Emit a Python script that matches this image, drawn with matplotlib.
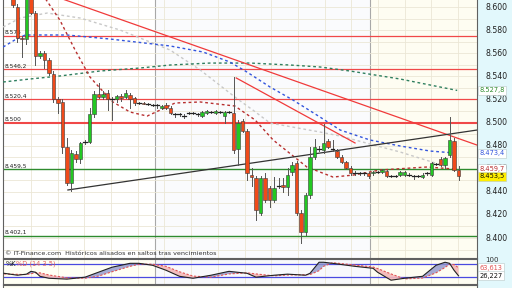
import numpy as np
import matplotlib
matplotlib.use("Agg")
import matplotlib.pyplot as plt
from matplotlib.patches import Rectangle
from matplotlib.transforms import blended_transform_factory

# ---- daily candles (index 0 = first visible session) ----
opens = [8.615, 8.600, 8.573, 8.572, 8.612, 8.595, 8.558, 8.560, 8.554, 8.542,
         8.520, 8.518, 8.479, 8.448, 8.473, 8.468, 8.483, 8.483, 8.507, 8.525,
         8.522, 8.526, 8.520, 8.520, 8.523, 8.522, 8.524, 8.521, 8.517, 8.517,
         8.516, 8.515, 8.515, 8.513, 8.515, 8.513, 8.507, 8.507, 8.506, 8.508,
         8.508, 8.507, 8.506, 8.508, 8.509, 8.508, 8.509, 8.506, 8.509, 8.508,
         8.477, 8.501, 8.493, 8.455, 8.452, 8.422, 8.452, 8.443, 8.433, 8.445,
         8.446, 8.444, 8.457, 8.465, 8.422, 8.405, 8.437, 8.470, 8.477, 8.476,
         8.484, 8.477, 8.475, 8.470, 8.466, 8.461, 8.456, 8.456, 8.456, 8.456,
         8.456, 8.457, 8.457, 8.458, 8.454, 8.454, 8.455, 8.455, 8.455, 8.454,
         8.454, 8.453, 8.456, 8.455, 8.464, 8.468, 8.463, 8.472, 8.484, 8.459]
highs = [8.620, 8.603, 8.575, 8.615, 8.620, 8.597, 8.562, 8.562, 8.556, 8.545,
         8.522, 8.520, 8.487, 8.476, 8.475, 8.483, 8.485, 8.513, 8.527, 8.534,
         8.527, 8.528, 8.522, 8.524, 8.525, 8.528, 8.526, 8.522, 8.518, 8.518,
         8.517, 8.516, 8.516, 8.515, 8.517, 8.514, 8.508, 8.508, 8.507, 8.509,
         8.509, 8.508, 8.510, 8.511, 8.510, 8.511, 8.510, 8.510, 8.510, 8.539,
         8.502, 8.503, 8.494, 8.461, 8.454, 8.454, 8.456, 8.445, 8.453, 8.452,
         8.452, 8.461, 8.466, 8.467, 8.424, 8.439, 8.479, 8.486, 8.480, 8.499,
         8.486, 8.485, 8.477, 8.472, 8.467, 8.462, 8.458, 8.457, 8.457, 8.457,
         8.458, 8.458, 8.460, 8.459, 8.455, 8.455, 8.458, 8.458, 8.456, 8.455,
         8.455, 8.456, 8.457, 8.466, 8.465, 8.470, 8.470, 8.505, 8.487, 8.462]
lows = [8.600, 8.570, 8.557, 8.568, 8.594, 8.550, 8.556, 8.547, 8.541, 8.518,
        8.508, 8.474, 8.446, 8.441, 8.466, 8.465, 8.481, 8.482, 8.505, 8.521,
        8.520, 8.511, 8.502, 8.518, 8.519, 8.521, 8.513, 8.515, 8.516, 8.516,
        8.515, 8.514, 8.513, 8.512, 8.512, 8.507, 8.505, 8.506, 8.504, 8.507,
        8.507, 8.506, 8.505, 8.507, 8.508, 8.507, 8.508, 8.500, 8.508, 8.474,
        8.463, 8.492, 8.450, 8.445, 8.416, 8.420, 8.431, 8.427, 8.431, 8.443,
        8.440, 8.437, 8.455, 8.420, 8.396, 8.403, 8.435, 8.468, 8.475, 8.474,
        8.478, 8.475, 8.469, 8.465, 8.460, 8.455, 8.455, 8.455, 8.455, 8.452,
        8.455, 8.456, 8.456, 8.453, 8.453, 8.453, 8.454, 8.454, 8.454, 8.451,
        8.453, 8.452, 8.455, 8.454, 8.463, 8.462, 8.461, 8.470, 8.458, 8.450]
closes = [8.602, 8.573, 8.572, 8.610, 8.595, 8.558, 8.560, 8.554, 8.543, 8.520,
          8.517, 8.479, 8.448, 8.474, 8.468, 8.482, 8.483, 8.507, 8.525, 8.522,
          8.525, 8.520, 8.520, 8.523, 8.521, 8.526, 8.520, 8.517, 8.517, 8.516,
          8.516, 8.515, 8.515, 8.514, 8.513, 8.508, 8.507, 8.507, 8.506, 8.508,
          8.508, 8.507, 8.509, 8.510, 8.509, 8.510, 8.509, 8.509, 8.509, 8.476,
          8.500, 8.493, 8.456, 8.453, 8.424, 8.452, 8.433, 8.433, 8.443, 8.445,
          8.444, 8.455, 8.463, 8.422, 8.405, 8.437, 8.470, 8.479, 8.477, 8.482,
          8.479, 8.477, 8.470, 8.466, 8.461, 8.456, 8.456, 8.456, 8.456, 8.454,
          8.457, 8.457, 8.459, 8.454, 8.454, 8.454, 8.457, 8.457, 8.455, 8.454,
          8.454, 8.455, 8.456, 8.465, 8.464, 8.463, 8.469, 8.485, 8.459, 8.4535]

# ---- moving averages (read at a few sessions) ----
ma_blue_x = [-2.2, 0.4, 2.7, 12, 21.6, 34.9, 42.2, 48.2, 52, 57.1, 62.2, 68.2, 72.7, 79.3, 86, 92.7, 98.9]
ma_blue_y = [8.5654, 8.5715, 8.5758, 8.5758, 8.5723, 8.5663, 8.5611, 8.5524, 8.5437, 8.5308,
             8.5195, 8.5048, 8.4935, 8.4849, 8.4797, 8.4753, 8.4734]
ma_green_x = [-2.2, 3.8, 10.4, 19.3, 28.2, 34.9, 43.8, 52.7, 61.6, 68.2, 74.9, 86, 98.7]
ma_green_y = [8.5351, 8.5377, 8.5403, 8.5446, 8.5472, 8.5498, 8.5515, 8.5515, 8.5498, 8.5481,
              8.5446, 8.5377, 8.5278]
ma_gray_x = [-2.2, 1.6, 7.6, 14.9, 23.8, 34.9, 41.6, 49.6, 53.3, 57.1, 68.2, 72.7, 86, 96]
ma_gray_y = [8.5827, 8.5905, 8.5948, 8.5905, 8.5801, 8.5628, 8.5455, 8.5212, 8.5108, 8.4996,
             8.4918, 8.4883, 8.4745, 8.4623]
ma_red_x = [7.1, 10.4, 13.8, 17.1, 19.3, 22.2, 26, 29.8, 32.7, 36, 41.6, 49.3, 53.8, 57.8,
            65.3, 71.1, 75.6, 81.6, 92, 98.2]
ma_red_y = [8.6078, 8.5888, 8.5628, 8.5394, 8.5299, 8.5178, 8.5091, 8.5056, 8.5108, 8.5169,
            8.5178, 8.5143, 8.5022, 8.4849, 8.4615, 8.4528, 8.4545, 8.4589, 8.4615, 8.4597]

# ---- trend lines: (x0, y0, x1, y1) ----
red_trend_1 = (10.4, 8.6078, 103.1, 8.4805)
red_trend_2 = (49.6, 8.5386, 76.0, 8.4823)
black_trend = (12.2, 8.4416, 103.1, 8.4935)

# ---- horizontal levels ----
red_levels = [8.575, 8.5462, 8.5204, 8.500]
red_labels = ["8.575", "8.546,2", "8.520,4", "8.500"]
green_levels = [8.4595, 8.4021]
green_labels = ["8.459,5", "8.402,1"]

price_ticks = [8.600, 8.580, 8.560, 8.540, 8.520, 8.500, 8.480, 8.460, 8.440, 8.420, 8.400]

# ---- stochastic %K %D (14 3 5) ----
stoch_x = [-2, 1, 3, 4, 5, 6, 8, 12, 16, 19, 22, 26, 28, 31, 34, 37, 40, 44, 48, 52, 54, 58,
           61, 65, 66, 68, 69, 71, 76, 80, 81, 84, 87, 91, 94, 96, 97, 98, 99]
stoch_k = [38, 29, 34, 47, 43, 24, 15, 11, 20, 43, 66, 84, 84, 75, 52, 24, 15, 29, 47, 38, 20, 29,
           34, 29, 38, 89, 89, 84, 70, 61, 43, 6, 15, 24, 75, 89, 84, 52, 26.227]
stoch_d = [35, 33, 32, 36, 40, 40, 30, 17, 15, 25, 45, 70, 80, 80, 70, 45, 25, 20, 35, 40, 35, 26,
           30, 31, 32, 50, 70, 87, 76, 67, 60, 35, 12, 16, 40, 65, 80, 78, 63.613]

W, H = 512, 288
XMIN, XMAX = -2.22, 103.1
YMIN, YMAX = 8.3827, 8.6061


def fig_box(x0, y0, x1, y1):
    # pixel box (top-left origin) -> figure fraction rect
    return [x0 / W, 1 - y1 / H, (x1 - x0) / W, (y1 - y0) / H]


fig = plt.figure(figsize=(W / 100, H / 100), dpi=100, facecolor="white")
fig.patches.append(Rectangle((477 / W, 0), 35 / W, 1, transform=fig.transFigure,
                             facecolor="#e2f8fc", edgecolor="none", zorder=-5))

ax = fig.add_axes(fig_box(3, 0, 477, 258))
ax.set_xlim(XMIN, XMAX)
ax.set_ylim(YMIN, YMAX)
ax.set_xticks([]); ax.set_yticks([])
ax.spines["top"].set_visible(False)
for s in ["left", "right", "bottom"]:
    ax.spines[s].set_color("#606060"); ax.spines[s].set_linewidth(0.8)

# background bands (months)
ax.axvspan(31.6, 79.3, color="#fafbfd", zorder=0, lw=0)
ax.axvspan(79.3, XMAX, color="#fefdf2", zorder=0, lw=0)

# grid
for gx in np.arange(4, 100, 5.93):
    ax.axvline(gx, color="#ebe7d6", lw=0.6, zorder=1)
for gx in [31.6, 79.3]:
    ax.axvline(gx, color="#a8a8a8", lw=0.8, zorder=1)
for gy in np.arange(8.39, 8.61, 0.01):
    ax.axhline(gy, color="#ebe7d6", lw=0.6, zorder=1)

# horizontal levels
lt = blended_transform_factory(ax.transAxes, ax.transData)
for lv, lb in zip(red_levels, red_labels):
    ax.axhline(lv, color="#f04848", lw=1.5 if lv == 8.500 else 0.9, zorder=2)
    ax.text(0.004, lv + 0.0006, lb, transform=lt, fontsize=4.2, color="#202020",
            va="bottom", ha="left", zorder=6)
for lv, lb in zip(green_levels, green_labels):
    ax.axhline(lv, color="#2e8b2e", lw=1.0, zorder=2)
    ax.text(0.004, lv + 0.0006, lb, transform=lt, fontsize=4.2, color="#202020",
            va="bottom", ha="left", zorder=6)

# moving averages
ax.plot(ma_gray_x, ma_gray_y, color="#c8c8c8", lw=1.0, ls=(0, (2, 2)), zorder=3)
ax.plot(ma_green_x, ma_green_y, color="#2f7f5f", lw=1.0, ls=(0, (2, 2)), zorder=3)
ax.plot(ma_blue_x, ma_blue_y, color="#3355dd", lw=1.0, ls=(0, (2, 2)), zorder=3)
ax.plot(ma_red_x, ma_red_y, color="#b83030", lw=1.0, ls=(0, (2, 2)), zorder=3)

# trend lines
for (x0, y0, x1, y1), col in [(red_trend_1, "#f03a3a"), (red_trend_2, "#f03a3a"), (black_trend, "#333333")]:
    ax.plot([x0, x1], [y0, y1], color=col, lw=0.9, zorder=4)

# candles
for i, (o, h, l, c) in enumerate(zip(opens, highs, lows, closes)):
    ax.plot([i, i], [l, h], color="#555555", lw=0.7, zorder=5)
    if abs(c - o) < 0.0008:
        ax.plot([i - 0.4, i + 0.4], [c, c], color="#222222", lw=0.9, zorder=6)
        continue
    col = "#22c822" if c > o else "#f04a1a"
    ax.add_patch(Rectangle((i - 0.36, min(o, c)), 0.72, abs(c - o), facecolor=col,
                           edgecolor="#3a3a3a", lw=0.4, zorder=6))

# right price scale
rt = blended_transform_factory(ax.transAxes, ax.transData)
for p in price_ticks:
    ax.text(1.017, p, f"{p:.3f}", transform=rt, fontsize=5.6,
            color="#202020", va="center", ha="left", clip_on=False)

# last-value boxes (later ones drawn on top, as in the source)
last_vals = [(8.5278, "8.527,8", "#2e8b2e", "white"),
             (8.4734, "8.473,4", "#3355dd", "white"),
             (8.4597, "8.459,7", "#b83030", "white"),
             (8.4535, "8.453,5", "#101010", "#ffee00")]
for z, (p, lb, tc, bc) in enumerate(last_vals):
    ax.text(1.005, p, lb, transform=rt, fontsize=4.8, color=tc, va="center", ha="left",
            clip_on=False, zorder=10 + z,
            bbox=dict(boxstyle="square,pad=0.25", facecolor=bc, edgecolor="#b8c8c8", lw=0.4))

ax.text(0.005, 0.008, "© IT-Finance.com  Históricos alisados en saltos tras vencimientos",
        transform=ax.transAxes, fontsize=4.6, color="#303030", va="bottom", ha="left")

# ---- stochastic panel ----
sx = fig.add_axes(fig_box(3, 258.5, 477, 283.5))
sx.set_xlim(XMIN, XMAX)
sx.set_ylim(-9.2, 106.3)
sx.set_xticks([]); sx.set_yticks([])
for s in sx.spines.values():
    s.set_color("#606060"); s.set_linewidth(0.8)
sx.set_facecolor("#fffff4")
sx.axvspan(31.6, 79.3, color="#f8f9fc", zorder=0, lw=0)
sx.axvspan(79.3, XMAX, color="#fefdf2", zorder=0, lw=0)
for gx in np.arange(4, 100, 5.93):
    sx.axvline(gx, color="#ebe7d6", lw=0.6, zorder=1)
for gx in [31.6, 79.3]:
    sx.axvline(gx, color="#a8a8a8", lw=0.8, zorder=1)
sx.axhline(80, color="#4a4ae0", lw=0.9, zorder=2)
sx.axhline(20, color="#4a4ae0", lw=0.9, zorder=2)
k = np.array(stoch_k); d = np.array(stoch_d)
sx.fill_between(stoch_x, k, d, where=k >= d, interpolate=True, color="#8f96cc", alpha=0.8, lw=0, zorder=3)
sx.fill_between(stoch_x, k, d, where=k < d, interpolate=True, color="#f4b8b8", alpha=0.9, lw=0, zorder=3)
sx.plot(stoch_x, stoch_d, color="#e05555", lw=0.8, ls=(0, (2, 1.5)), zorder=4)
sx.plot(stoch_x, stoch_k, color="#222222", lw=0.8, zorder=5)
sx.text(0.006, 0.78, "%K", transform=sx.transAxes, fontsize=4.8, color="#202020", va="center")
sx.text(0.028, 0.78, "%D (14 3 5)", transform=sx.transAxes, fontsize=4.8, color="#e06060", va="center")
st = blended_transform_factory(sx.transAxes, sx.transData)
sx.text(1.017, 100, "100", transform=st, fontsize=5, color="#303030", va="center", ha="left", clip_on=False)
sx.text(1.005, stoch_d[-1], "63,613", transform=st, fontsize=4.8, color="#e05555", va="center",
        ha="left", clip_on=False, bbox=dict(boxstyle="square,pad=0.2", facecolor="white", edgecolor="#b8c8c8", lw=0.4))
sx.text(1.005, stoch_k[-1], "26,227", transform=st, fontsize=4.8, color="#101010", va="center",
        ha="left", clip_on=False, bbox=dict(boxstyle="square,pad=0.2", facecolor="white", edgecolor="#b8c8c8", lw=0.4))

# next panel, cut by the frame
nx = fig.add_axes(fig_box(3, 285, 477, 300))
nx.set_xticks([]); nx.set_yticks([])
for s in nx.spines.values():
    s.set_color("#606060"); s.set_linewidth(0.8)
nx.set_facecolor("#fffff4")

fig.savefig("out.png", dpi=100, facecolor="white")
